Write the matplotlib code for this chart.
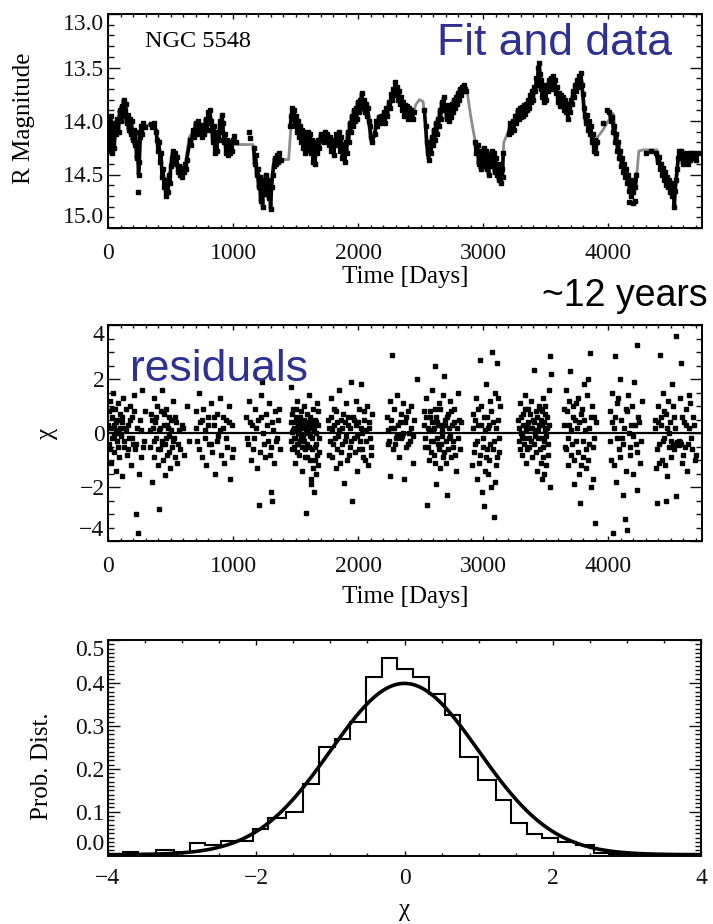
import numpy as np
import matplotlib
matplotlib.use("Agg")
import matplotlib.pyplot as plt
from matplotlib.ticker import MultipleLocator, FormatStrFormatter

plt.rcParams['font.family'] = ['Liberation Serif', 'DejaVu Serif']

# --- light curve: fitted model (grey line) ---
fit_day = [0, 25, 50, 80, 110, 130, 155, 180, 210, 235,
           250, 265, 290, 380, 400, 425, 450, 470, 490, 505,
           520, 540, 560, 590, 615, 630, 650, 680, 720, 760,
           790, 815, 840, 870, 900, 915, 935, 970, 1000, 1030,
           1160, 1180, 1200, 1230, 1260, 1290, 1315, 1330, 1360, 1390,
           1445, 1460, 1475, 1500, 1530, 1560, 1600, 1640, 1680, 1720,
           1760, 1800, 1830, 1860, 1890, 1920, 1950, 1980, 2000, 2030,
           2060, 2090, 2110, 2130, 2160, 2200, 2240, 2270, 2300, 2330,
           2360, 2400, 2440, 2460, 2490, 2520, 2545, 2565, 2590, 2620,
           2650, 2680, 2700, 2730, 2760, 2790, 2820, 2850, 2875, 2900,
           2930, 2960, 2990, 3030, 3060, 3100, 3130, 3150, 3165, 3200,
           3240, 3280, 3320, 3370, 3400, 3430, 3450, 3465, 3480, 3500,
           3530, 3560, 3580, 3610, 3640, 3680, 3710, 3740, 3770, 3790,
           3820, 3850, 3880, 3900, 3915, 3960, 4000, 4040, 4060, 4080,
           4110, 4140, 4170, 4200, 4225, 4245, 4280, 4390, 4420, 4450,
           4480, 4510, 4530, 4550, 4570, 4600, 4640, 4680, 4720, 4750]
fit_mag = [14.15, 14.00, 14.20, 14.05, 13.90, 13.82, 14.00, 14.05, 14.15, 14.30,
           14.45, 14.10, 14.04, 14.04, 14.20, 14.40, 14.60, 14.68, 14.55, 14.40,
           14.30, 14.35, 14.45, 14.48, 14.45, 14.30, 14.15, 14.10, 14.05, 14.10,
           14.00, 13.95, 14.05, 14.20, 14.05, 13.97, 14.20, 14.25, 14.20, 14.22,
           14.22, 14.35, 14.55, 14.65, 14.60, 14.70, 14.55, 14.40, 14.35, 14.36,
           14.36, 14.10, 13.92, 14.00, 14.10, 14.15, 14.20, 14.25, 14.25, 14.15,
           14.15, 14.25, 14.15, 14.20, 14.30, 14.15, 14.00, 13.95, 13.85, 13.75,
           13.85, 13.95, 14.15, 14.10, 14.00, 13.98, 13.90, 13.78, 13.65, 13.75,
           13.85, 13.90, 13.95, 13.85, 13.80, 13.82, 14.10, 14.35, 14.20, 14.10,
           13.95, 13.80, 13.85, 13.95, 13.90, 13.85, 13.70, 13.67, 13.75, 13.95,
           14.15, 14.30, 14.30, 14.35, 14.30, 14.40, 14.50, 14.55, 14.20, 14.10,
           14.05, 13.95, 13.92, 13.90, 13.78, 13.60, 13.48, 13.60, 13.75, 13.72,
           13.65, 13.60, 13.70, 13.80, 13.82, 13.95, 13.80, 13.70, 13.58, 13.65,
           13.95, 14.05, 14.20, 14.25, 14.15, 14.08, 14.00, 13.93, 14.10, 14.30,
           14.40, 14.50, 14.60, 14.62, 14.55, 14.28, 14.27, 14.27, 14.40, 14.50,
           14.55, 14.62, 14.68, 14.50, 14.28, 14.35, 14.33, 14.32, 14.30, 14.30]

# --- light curve: observations (black), one line per observing season ---
obs_day = [5, 12, 20, 28, 35, 42, 50, 58, 66, 75, 84, 92, 100, 108, 116, 124, 132, 140, 148, 156,
           164, 172, 180, 188, 196, 204, 212, 220, 228, 236, 244, 250, 256, 264, 272, 282, 292,
           340, 355, 370, 385, 393, 400, 408, 416, 424, 432, 440, 448, 455, 462, 470, 478, 486, 494,
           502, 510, 518, 526, 534, 542, 550, 558, 566, 574, 582, 590, 598, 606, 614, 622, 630,
           655, 665, 680, 690, 700, 710, 720, 730, 740, 750, 760, 770, 780, 790, 800, 808, 815, 823,
           830, 838, 846, 854, 862, 870, 878, 886, 894, 902, 910, 918, 926, 934, 942, 950, 958, 966,
           974, 982, 990, 1000, 1010, 1020,
           1165, 1172, 1180, 1188, 1196, 1204, 1212, 1220, 1228, 1236, 1244, 1252, 1260, 1268, 1276,
           1284, 1292, 1300, 1308, 1316, 1324, 1332, 1340, 1350, 1360, 1370, 1380,
           1458, 1465, 1472, 1480, 1488, 1496, 1504, 1512, 1520, 1528, 1536, 1544, 1552, 1560, 1568,
           1576, 1584, 1592, 1600, 1608, 1616, 1624, 1632, 1640, 1648, 1656, 1664, 1672, 1680, 1690,
           1700,
           1725, 1735, 1745, 1755, 1765, 1775, 1785, 1795, 1805, 1815, 1825, 1835, 1845, 1855, 1865,
           1875, 1885, 1893, 1900, 1908, 1916, 1924, 1932, 1940, 1948, 1956, 1964, 1972, 1980, 1988,
           1996, 2004, 2012, 2020, 2028, 2036, 2044, 2052, 2060, 2068, 2076, 2084, 2092, 2100, 2108,
           2135, 2145, 2155, 2165, 2175, 2185, 2195, 2205, 2215, 2225, 2235, 2245, 2255, 2263, 2271,
           2279, 2287, 2295, 2303, 2311, 2319, 2327, 2335, 2343, 2351, 2359, 2367, 2375, 2383, 2391,
           2399, 2407, 2415, 2425, 2435, 2445,
           2530, 2540, 2548, 2556, 2564, 2572, 2580, 2588, 2596, 2604, 2612, 2620, 2628, 2636, 2644,
           2652, 2660, 2668, 2676, 2684, 2692, 2700, 2708, 2716, 2724, 2732, 2740, 2748, 2756, 2764,
           2772, 2780, 2788, 2796, 2804, 2812, 2820, 2828, 2836, 2844, 2852, 2860,
           2935, 2945, 2955, 2963, 2971, 2979, 2987, 2995, 3003, 3011, 3019, 3027, 3035, 3043, 3051,
           3059, 3067, 3075, 3083, 3091, 3099, 3107, 3115, 3123, 3131, 3139, 3147, 3155, 3160,
           3205, 3215, 3225, 3235, 3245, 3255, 3265, 3275, 3285, 3295, 3305, 3313, 3321, 3329, 3337,
           3345, 3353, 3361, 3369, 3377, 3385, 3393, 3401, 3409, 3417, 3425, 3433, 3441, 3447, 3453,
           3459, 3465, 3471, 3477, 3485, 3493, 3501, 3509, 3517, 3525, 3533,
           3541, 3549, 3557, 3565, 3573, 3581, 3589, 3597, 3605, 3613, 3621, 3629, 3637, 3645, 3653,
           3661, 3669, 3677, 3685, 3693, 3701, 3709, 3717, 3725, 3733, 3741, 3749, 3757, 3765, 3773,
           3781, 3789, 3797, 3805, 3813, 3821, 3829, 3837, 3845, 3853, 3861, 3869, 3877, 3885, 3893,
           3901, 3909,
           4010, 4022, 4034, 4042, 4050, 4058, 4066, 4074, 4082, 4090, 4098, 4106, 4114, 4122, 4130,
           4138, 4146, 4154, 4162, 4170, 4178, 4186, 4194, 4202, 4210, 4218, 4226,
           4385, 4395, 4405, 4415, 4425, 4433, 4441, 4449, 4457, 4465, 4473, 4481, 4489, 4497, 4505,
           4513, 4521, 4529, 4535, 4543, 4551, 4559, 4567, 4575, 4585, 4595, 4605, 4615, 4625, 4635,
           4645, 4655, 4665, 4675, 4690, 4705, 4720]
obs_mag = [14.12, 14.28, 13.95, 14.08, 14.30, 14.15, 14.25, 14.02, 14.12, 13.98, 14.10, 13.90, 14.00, 13.86, 13.95, 13.80, 13.90, 13.84, 14.02, 13.94,
           14.08, 13.98, 14.12, 14.00, 14.18, 14.08, 14.22, 14.10, 14.35, 14.20, 14.50, 14.38, 14.15, 14.05, 14.12, 14.02, 14.06,
           14.03, 14.06, 14.02, 14.10, 14.18, 14.28, 14.20, 14.38, 14.30, 14.52, 14.45, 14.62, 14.55, 14.70, 14.60, 14.66, 14.50, 14.58,
           14.42, 14.35, 14.28, 14.38, 14.30, 14.40, 14.34, 14.48, 14.42, 14.50, 14.45, 14.52, 14.44, 14.48, 14.40, 14.45, 14.36,
           14.18, 14.22, 14.08, 14.15, 14.02, 14.12, 14.00, 14.10, 14.04, 14.15, 14.06, 14.12, 13.98, 14.08, 13.92, 14.02, 13.90, 14.00,
           14.08, 14.20, 14.05, 14.30, 14.15, 14.28, 14.10, 14.18, 14.00, 14.10, 13.94, 14.02, 14.20, 14.12, 14.30, 14.18, 14.32, 14.22,
           14.30, 14.20, 14.28, 14.18, 14.14, 14.20,
           14.25, 14.40, 14.32, 14.50, 14.45, 14.62, 14.52, 14.75, 14.60, 14.80, 14.55, 14.68, 14.50, 14.62, 14.55,
           14.72, 14.60, 14.82, 14.62, 14.50, 14.42, 14.35, 14.40, 14.32, 14.38, 14.30, 14.36,
           14.05, 13.95, 13.88, 13.98, 13.90, 14.05, 13.95, 14.10, 14.00, 14.15, 14.05, 14.20, 14.08, 14.25, 14.10,
           14.30, 14.15, 14.22, 14.10, 14.28, 14.12, 14.30, 14.18, 14.38, 14.22, 14.40, 14.20, 14.30, 14.18, 14.25,
           14.12,
           14.20, 14.10, 14.18, 14.12, 14.22, 14.15, 14.28, 14.18, 14.32, 14.20, 14.12, 14.22, 14.10, 14.28, 14.15,
           14.35, 14.22, 14.38, 14.20, 14.30, 14.10, 14.20, 14.02, 14.10, 13.95, 14.05, 13.90, 14.00, 13.88, 13.98,
           13.82, 13.92, 13.80, 13.88, 13.74, 13.85, 13.80, 13.92, 13.84, 13.95, 13.88, 14.00, 14.05, 14.15, 14.20,
           14.12, 14.00, 14.05, 13.96, 14.02, 13.95, 14.00, 13.92, 14.02, 13.88, 13.95, 13.82, 13.88, 13.75, 13.80,
           13.70, 13.76, 13.64, 13.70, 13.68, 13.80, 13.72, 13.84, 13.78, 13.90, 13.82, 13.95, 13.85, 13.92, 13.86,
           13.98, 13.88, 13.95, 13.90, 13.98, 13.92,
           13.90, 14.05, 14.20, 14.30, 14.36, 14.25, 14.30, 14.15, 14.22, 14.08, 14.18, 14.02, 14.12, 13.98, 14.05,
           13.90, 13.98, 13.82, 13.90, 13.78, 13.86, 13.90, 13.98, 13.85, 14.00, 13.88, 13.96, 13.84, 13.92, 13.80,
           13.88, 13.78, 13.84, 13.74, 13.80, 13.70, 13.76, 13.68, 13.72, 13.66, 13.70, 13.72,
           14.20, 14.30, 14.22, 14.40, 14.28, 14.45, 14.30, 14.42, 14.25, 14.38, 14.28, 14.45, 14.32, 14.50, 14.35,
           14.42, 14.28, 14.38, 14.30, 14.48, 14.35, 14.50, 14.40, 14.55, 14.42, 14.58, 14.45, 14.52, 14.30,
           14.12, 14.02, 14.10, 14.00, 14.08, 13.95, 14.02, 13.90, 13.98, 13.88, 13.96, 13.87, 13.95, 13.85, 13.93,
           13.84, 13.90, 13.80, 13.88, 13.76, 13.82, 13.72, 13.80, 13.68, 13.72, 13.60, 13.66, 13.50, 13.46, 13.56,
           13.70, 13.62, 13.78, 13.66, 13.82, 13.70, 13.80, 13.66, 13.72, 13.62, 13.68,
           13.60, 13.70, 13.58, 13.66, 13.62, 13.74, 13.68, 13.82, 13.74, 13.86, 13.76, 13.85, 13.78, 13.90, 13.80,
           13.92, 13.84, 13.98, 13.88, 13.92, 13.80, 13.84, 13.72, 13.78, 13.66, 13.72, 13.62, 13.68, 13.58, 13.64,
           13.55, 13.66, 13.75, 13.88, 13.95, 14.02, 13.94, 14.08, 14.00, 14.12, 14.05, 14.20, 14.12, 14.28, 14.18,
           14.30, 14.20,
           13.92, 14.00, 13.96, 14.10, 14.05, 14.20, 14.12, 14.28, 14.20, 14.35, 14.28, 14.42, 14.35, 14.48, 14.40,
           14.52, 14.45, 14.58, 14.50, 14.65, 14.55, 14.70, 14.58, 14.66, 14.55, 14.62, 14.50,
           14.30, 14.38, 14.34, 14.45, 14.40, 14.50, 14.44, 14.55, 14.48, 14.60, 14.52, 14.62, 14.55, 14.66, 14.58,
           14.70, 14.62, 14.80, 14.65, 14.55, 14.45, 14.35, 14.28, 14.35, 14.28, 14.40, 14.30, 14.38, 14.32, 14.40,
           14.30, 14.36, 14.30, 14.35, 14.30, 14.36, 14.30]

# isolated observations
odd_day = [237, 1128, 1134, 3960, 3990, 4165, 4195, 4213, 4300, 4340]
odd_mag = [14.66, 14.10, 14.16, 14.02, 13.90, 14.76, 14.77, 14.75, 14.30, 14.28]

# --- residuals chi: scattered points ---
res_day = [5, 10, 15, 20, 25, 30, 35, 40, 45, 50, 55, 60, 65, 70, 75, 80, 85, 90, 95, 100,
           108, 115, 122, 130, 138, 145, 152, 160, 168, 176, 184, 192, 200, 210, 218, 223, 230, 237, 245, 255,
           265, 275, 285, 295,
           335, 342, 350, 357, 364, 371, 378, 385, 392, 399, 406, 410, 414, 421, 428, 435, 442, 449, 456, 458,
           463, 470, 477, 484, 491, 498, 505, 512, 520, 528, 536, 545, 555, 565, 575, 590, 610, 630, 650,
           700, 712, 724, 736, 748, 760, 772, 784, 796, 808, 820, 832, 844, 856, 868, 880, 892, 904, 916, 928,
           940, 952, 964, 976, 988, 1000,
           1105, 1118, 1130, 1142, 1154, 1166, 1178, 1190, 1202, 1208, 1214, 1226, 1234, 1242, 1254, 1266, 1278,
           1290, 1300, 1302, 1310, 1314, 1326, 1338, 1350, 1362, 1374,
           1460, 1466, 1472, 1478, 1484, 1490, 1496, 1502, 1508, 1514, 1520, 1526, 1532, 1538, 1544, 1550, 1556,
           1562, 1568, 1574, 1580, 1586, 1592, 1598, 1604, 1610, 1616, 1622, 1628, 1634, 1640, 1647, 1652, 1658,
           1664, 1670, 1676, 1682, 1688, 1475, 1545, 1600, 1615, 1660, 1625,
           1760, 1770, 1780, 1790, 1800, 1810, 1820, 1830, 1840, 1850, 1860, 1870, 1880, 1886, 1893, 1902, 1912,
           1922, 1932, 1942, 1952, 1960, 1970, 1980, 1990, 2000, 2010, 2020, 2030, 2040, 2050, 2060, 2070, 2080,
           2090, 2100, 2112,
           2232, 2242, 2252, 2258, 2265, 2272, 2280, 2290, 2300, 2310, 2320, 2330, 2340, 2350, 2358, 2365, 2375,
           2385, 2395, 2405, 2415, 2425, 2435, 2445, 2472,
           2525, 2533, 2541, 2551, 2555, 2563, 2571, 2579, 2587, 2595, 2603, 2611, 2618, 2622, 2630, 2638, 2646,
           2654, 2662, 2670, 2678, 2684, 2690, 2698, 2706, 2711, 2718, 2726, 2734, 2742, 2750, 2760, 2770, 2780,
           2790, 2800, 2812, 2825,
           2912, 2922, 2932, 2942, 2952, 2962, 2972, 2977, 2984, 2990, 2996, 3004, 3010, 3018, 3026, 3034, 3042,
           3050, 3058, 3066, 3070, 3076, 3083, 3090, 3098, 3106, 3110, 3118, 3126, 3134,
           3282, 3290, 3298, 3306, 3314, 3322, 3330, 3338, 3346, 3354, 3362, 3370, 3378, 3386, 3394, 3403, 3410,
           3418, 3426, 3434, 3442, 3450, 3458, 3466, 3474, 3482, 3490, 3498, 3506, 3514, 3522, 3530, 3536, 3538,
           3542, 3460, 3470, 3480, 3488, 3495,
           3645, 3655, 3665, 3675, 3685, 3695, 3705, 3715, 3725, 3735, 3745, 3755, 3765, 3775, 3785, 3795, 3805,
           3815, 3825, 3835, 3845, 3855, 3865, 3875, 3885, 3895, 3905,
           4014, 4024, 4034, 4041, 4048, 4054, 4062, 4074, 4086, 4098, 4110, 4122, 4134, 4140, 4148, 4160, 4172,
           4184, 4196, 4208, 4220, 4227, 4229, 4240, 4254, 4270,
           4372, 4380, 4387, 4395, 4405, 4413, 4420, 4430, 4440, 4450, 4460, 4466, 4474, 4482, 4490, 4500, 4510,
           4520, 4530, 4540, 4546, 4552, 4560, 4568, 4576, 4586, 4594, 4604, 4614, 4624, 4634, 4644, 4656, 4670,
           4686, 4700]
res_chi = [0.8, -0.4, 1.2, 0.2, -1.1, 0.6, -0.2, 1.5, 0.3, -0.7, 0.9, 0.1, -1.4, 0.5, -0.3, 1.1, 0.0, -0.9, 0.7, -0.1,
           0.4, -1.6, 1.3, -0.5, 0.2, 0.9, -0.8, 0.3, -0.2, 1.0, -1.2, 0.6, -0.4, 1.4, -0.6, -3.0, 0.2, -3.7, -1.5, 0.5,
           -0.9, 1.6, -0.3, 0.8,
           -0.5, 0.7, -1.8, 0.2, 1.3, -0.9, 0.4, -0.2, 1.0, -1.2, 0.1, -2.8, -0.6, 0.8, -0.3, 1.6, -1.0, 0.3, -0.4, -1.55,
           0.9, -0.8, 0.2, -0.1, 0.6, -1.3, 0.5, -0.5, 1.2, -0.2, -0.9, 0.4, -1.1, 0.1, -0.6, 0.3, -0.8, 1.0, -0.3,
           0.8, -0.3, 1.5, 0.4, -0.9, 0.9, 0.1, -1.2, 0.6, -0.4, 1.1, -0.7, 0.3, -1.5, 0.7, -0.1, 1.3, -0.8, 0.2, -1.1,
           0.5, -0.5, 1.0, -1.7, 0.3, -0.6,
           0.6, -0.4, 1.2, -1.0, 0.3, -0.2, 0.9, -1.3, 0.5, -2.65, -0.7, 1.4, 1.9, 0.0, -0.9, 0.7, -0.3,
           1.1, -2.2, -0.5, -2.5, 0.4, -1.1, 0.8, -0.2, 0.5, -0.6,
           1.7, 0.4, -0.6, 0.9, -0.2, 0.2, -1.1, 0.6, -0.4, 1.2, 0.0, -0.8, 0.5, -0.3, 0.8, -1.4, 0.3,
           -0.1, 1.0, -0.6, -2.96, 0.4, -0.9, 0.1, 1.4, -0.5, 0.6, -1.7, 0.2, -0.2, 0.9, -2.2, -1.0, 0.5,
           -0.4, 1.1, -1.2, 0.3, -0.7, 0.05, -0.15, 0.25, -0.1, 0.0, -1.9,
           0.5, -0.8, 1.3, 0.1, -0.4, 0.9, -1.3, 0.4, -0.1, 1.6, -0.7, 0.2, 0.7, -1.85, -0.3, 1.1, -1.0,
           0.3, -0.5, 1.9, -2.5, 0.6, -0.2, 1.2, -1.4, 0.4, -0.6, 1.8, 0.0, -0.9, 0.8, -0.3, 1.0, -1.2,
           0.2, -0.5, 0.7,
           0.6, -0.4, 1.2, -1.6, 0.2, 2.9, -0.6, 0.9, -0.2, 1.4, 0.3, -0.9, 0.7, -0.1, 1.1, -1.7, 0.4,
           -0.5, 0.8, 0.0, -0.3, 1.0, -1.1, 0.5, 2.0,
           0.8, -0.5, 1.3, -2.65, 0.2, -1.0, 0.6, -0.3, 1.6, 0.1, -0.8, 0.9, 2.5, -1.9, 0.4, -0.4, 1.1,
           -1.3, 0.3, -0.1, 1.4, 2.1, -0.7, 0.5, -1.1, -2.3, 0.7, -0.2, 1.2, -0.9, 0.3, -0.5, 0.9, -1.4,
           0.2, 1.5, -0.6, 0.4,
           -1.2, 0.7, -0.4, 1.3, -1.7, 0.3, -0.8, 2.7, 1.0, -2.2, -0.2, -2.7, 0.6, -1.4, 1.8, -0.6, 0.2,
           -1.0, 1.2, -2.0, 3.0, 0.4, -3.1, -0.3, 1.5, -1.2, 2.6, 0.5, -0.7, 1.0,
           0.5, -0.3, 1.1, 0.0, -0.8, 0.7, -0.2, 1.4, -1.1, 0.3, 0.9, -0.5, 0.2, 1.2, -0.9, 2.35, 0.4,
           -0.1, 0.8, -1.4, 0.1, 1.0, -0.6, 0.5, -1.7, 1.3, -0.3, 0.7, -1.2, 0.2, -0.4, 1.6, 2.84, -2.0,
           2.2, -0.2, 0.3, -0.9, -1.5, 0.1,
           0.9, -0.5, 1.6, -1.2, 0.3, 2.3, -0.8, 1.0, -1.9, 0.5, -0.3, 1.3, -1.5, -2.6, 0.7, -0.9, 1.8,
           0.1, -1.3, 2.0, -0.4, 2.96, 0.6, -1.7, -0.2, -3.33, 0.4,
           0.8, -1.0, 1.5, -3.7, 0.2, 2.84, -1.8, 1.1, -0.6, 2.0, -0.2, -2.3, -3.2, 0.9, -3.6, 1.4, -0.8,
           0.3, -1.5, 1.9, -0.4, 3.27, -2.1, 0.6, -1.1, 1.2,
           0.5, -1.3, -2.6, 1.0, -0.4, 2.9, 0.3, -1.0, 1.5, -0.2, 0.7, -2.5, -1.6, 1.2, 0.0, -0.9, 1.8,
           -0.4, 0.6, 3.6, -2.35, -0.35, -0.4, -0.3, 1.3, 2.6, -1.1, 0.4, -0.5, 0.9, -1.4, 0.2, 1.1, -0.6,
           0.3, -0.8]

# --- residuals chi: dense core of each season ---
core_day = [3, 18, 33, 48, 63, 78, 93, 112, 127, 142, 157, 172, 190, 205, 225, 260, 280,
            338, 352, 368, 382, 396, 418, 432, 446, 466, 474, 488, 502, 516, 532, 560, 600,
            706, 730, 754, 778, 802, 826, 850, 874, 898, 922, 946, 970, 994,
            1110, 1136, 1160, 1184, 1220, 1248, 1272, 1296, 1320, 1344, 1368,
            1463, 1469, 1481, 1487, 1493, 1499, 1505, 1511, 1517, 1523, 1529, 1535, 1541, 1547, 1553, 1559,
            1565, 1571, 1577, 1583, 1589, 1595, 1607, 1613, 1619, 1631, 1637, 1643, 1649, 1655, 1661, 1667,
            1673, 1679, 1685,
            1765, 1775, 1785, 1795, 1805, 1815, 1825, 1835, 1845, 1855, 1865, 1875, 1897, 1907, 1917, 1927,
            1937, 1947, 1965, 1975, 1985, 1995, 2005, 2015, 2025, 2035, 2045, 2055, 2065, 2085, 2095, 2106,
            2237, 2247, 2262, 2285, 2295, 2315, 2335, 2345, 2362, 2380, 2400, 2420, 2440,
            2529, 2537, 2545, 2559, 2567, 2575, 2583, 2591, 2599, 2607, 2615, 2626, 2634, 2642, 2650, 2658,
            2666, 2674, 2682, 2694, 2702, 2714, 2722, 2730, 2738, 2746, 2755, 2765, 2775, 2795, 2806,
            2917, 2927, 2937, 2947, 2957, 2967, 2980, 3000, 3014, 3022, 3030, 3038, 3046, 3054, 3062, 3080,
            3094, 3102, 3114, 3122, 3130,
            3286, 3294, 3302, 3310, 3318, 3326, 3334, 3342, 3350, 3358, 3366, 3374, 3382, 3390, 3398, 3406,
            3414, 3422, 3430, 3438, 3446, 3454, 3462, 3468, 3476, 3484, 3492, 3500, 3510, 3518, 3526,
            3650, 3660, 3670, 3680, 3690, 3700, 3710, 3720, 3730, 3740, 3750, 3760, 3770, 3780, 3790, 3800,
            3810, 3820, 3830, 3840, 3850, 3860, 3870, 3880, 3890,
            4018, 4030, 4044, 4058, 4068, 4080, 4092, 4104, 4116, 4128, 4144, 4154, 4166, 4178, 4190, 4202,
            4214, 4234, 4248, 4262,
            4376, 4391, 4400, 4409, 4425, 4435, 4445, 4455, 4470, 4486, 4495, 4505, 4515, 4525, 4535, 4556,
            4564, 4572, 4580, 4590, 4600, 4620, 4640, 4650, 4662, 4678, 4692]
core_chi = [0.3, -0.6, 0.9, -0.1, 0.4, -0.5, 0.2, 0.6, -0.3, 0.1, -0.6, 0.5, -0.2, 0.8, -0.4, 0.1, -0.5,
            0.1, 0.5, -0.3, 0.6, -0.6, 0.2, -0.4, 0.7, -0.2, 0.3, -0.7, 0.1, -0.3, 0.6, -0.4, 0.2,
            0.2, -0.6, 0.5, -0.2, 0.3, -0.4, 0.6, -0.3, 0.1, 0.6, -0.2, 0.4, -0.9,
            -0.2, 0.4, -0.6, 0.2, 0.6, -0.4, 0.3, -0.8, 0.1, -0.3, 0.9,
            -0.3, 0.7, 0.1, -0.5, 0.4, -0.2, 0.9, -0.7, 0.3, -0.4, 0.1, 0.6, -0.1, 0.3, -0.5, 0.2,
            -0.3, 0.5, -0.9, 0.0, 0.7, -0.4, 0.2, -1.0, 0.4, -0.6, 0.3, -1.3, 0.1, -0.5, -1.5, 0.4,
            -0.8, 0.8, -0.2,
            0.2, -0.3, 0.6, -0.9, 0.3, -0.2, 0.8, -0.6, 0.1, -1.1, 0.5, -0.4, 0.4, -0.1, 0.6, -0.8,
            0.2, -0.3, 0.5, -0.7, 0.3, -0.1, 0.9, -0.3, 0.2, -0.6, 0.5, -1.0, 0.1, 0.4, -0.2, -0.8,
            0.1, -0.3, 0.5, 0.2, -0.4, -0.1, 0.4, -0.2, 0.0, 0.6, -0.4, 0.2, -0.1,
            0.3, -0.2, 0.6, -0.5, 0.1, 0.8, -0.7, 0.4, -0.3, 0.2, -1.1, 0.6, -0.2, 0.3, -0.6, 0.9,
            -0.4, 0.1, -0.9, 0.3, -0.3, 0.6, -0.6, 0.2, -0.1, 0.8, -0.3, 0.4, -0.8, -0.2, 0.5,
            0.2, -0.7, 0.5, -0.3, 0.9, -1.1, 0.3, -0.5, 0.1, -0.9, 0.6, -1.5, 0.3, -0.4, 0.8, -0.6,
            -1.8, 0.2, -0.9, 1.3, -0.2,
            0.2, -0.6, 0.6, -0.1, 0.3, -0.4, 0.9, 0.1, -0.6, 0.4, -0.2, 0.7, -0.3, 0.2, 0.5, -0.4,
            0.1, -0.7, 0.6, -0.2, 0.3, 0.9, -1.1, 0.8, -0.5, 0.4, 1.0, -0.1, 0.6, -0.8, 0.3,
            0.3, -0.6, 0.8, -0.2, 1.2, 0.1, -0.4, 0.6, -1.0, 1.1, 0.2, -0.7, 0.4, -1.2, 0.9, -0.3,
            0.5, -0.6, 1.4, -1.0, 0.2, -2.0, 1.0, -0.5, 0.6,
            -0.3, 0.4, -1.2, 0.6, -0.2, 1.3, -0.9, 0.5, -0.4, 0.2, -1.4, 0.8, 0.0, -0.5, 1.0, -0.1,
            0.3, -0.7, 0.4, -0.3,
            0.2, -0.6, 0.4, -1.1, 0.6, -0.3, 0.8, -1.2, 0.2, -0.5, 0.4, -0.3, 1.0, -0.6, 0.2, -0.4,
            -0.45, -0.35, -0.4, 0.6, -0.8, 0.3, -0.4, 1.4, -0.2, 0.6, -1.0]

# --- distribution of chi ---
hist_edges = [-4.00, -3.80, -3.59, -3.35, -3.11, -2.90, -2.69, -2.48, -2.26, -2.05, -1.84,
              -1.60, -1.37, -1.15, -0.94, -0.73, -0.52, -0.31, -0.10, 0.12, 0.33, 0.54,
              0.75, 0.99, 1.23, 1.44, 1.65, 1.86, 2.07, 2.31, 2.55, 2.76, 3.50, 4.00]
hist_prob = [0.0, 0.006, 0.002, 0.012, 0.006, 0.027, 0.022, 0.033, 0.033, 0.06, 0.085,
             0.10, 0.165, 0.25, 0.27, 0.31, 0.415, 0.458, 0.433, 0.415, 0.374, 0.326,
             0.227, 0.174, 0.128, 0.074, 0.048, 0.039, 0.03, 0.022, 0.005, 0.002, 0.0]

W, H = 713, 924
BLUE = '#2e3192'


def box(l, t, r, b):
    return [l / W, 1 - b / H, (r - l) / W, (b - t) / H]


def style(ax, xmin, ymin):
    ax.xaxis.set_minor_locator(MultipleLocator(xmin))
    ax.yaxis.set_minor_locator(MultipleLocator(ymin))
    ax.tick_params(which='both', direction='in', top=True, right=True,
                   width=1.0, labelsize=17, colors='#111111')
    ax.tick_params(axis='x', which='major', length=3.4, pad=11)
    ax.tick_params(axis='x', which='minor', length=1.9)
    ax.tick_params(axis='y', which='major', length=8.6, pad=2.5)
    ax.tick_params(axis='y', which='minor', length=4.3)
    for s in ax.spines.values():
        s.set_linewidth(1.4)


def end_labels(ax, low, high):
    ticks = ax.yaxis.get_major_ticks()
    ticks[0].label1.set_va(low)
    ticks[-1].label1.set_va(high)


fig = plt.figure(figsize=(W / 100, H / 100), dpi=100)

# ---- panel 1: light curve ----
ax1 = fig.add_axes(box(108, 14, 702, 228))
ax1.plot(fit_day, fit_mag, color='#8c8c8c', lw=2.0, zorder=2)
day = np.array(obs_day)
mag = np.array(obs_mag)
cut = np.where(np.diff(day) > 30)[0] + 1
for d, m in zip(np.split(day, cut), np.split(mag, cut)):
    ax1.plot(d, m, color='black', lw=2.6, marker='s', ms=3.2, zorder=3)
ax1.plot(odd_day, odd_mag, 's', color='black', ms=2.6, zorder=3)
ax1.set_xlim(0, 4750)
ax1.set_ylim(15.0, 13.0)
ax1.set_xticks([0, 1000, 2000, 3000, 4000])
ax1.set_yticks([13.0, 13.5, 14.0, 14.5, 15.0])
ax1.yaxis.set_major_formatter(FormatStrFormatter('%.1f'))
style(ax1, 100, 0.1)
end_labels(ax1, 'top', 'bottom')
ax1.set_xlabel('Time [Days]', fontsize=18)
ax1.xaxis.set_label_coords(0.5, -(266 - 228) / 214)
ax1.set_ylabel('R Magnitude', fontsize=18)
ax1.yaxis.set_label_coords(-(108 - 35) / 594, 0.514)
fig.text(145 / W, 1 - 47 / H, 'NGC 5548', fontsize=17.5, va='baseline')
fig.text(437 / W, 1 - 55 / H, 'Fit and data', fontsize=32, color=BLUE,
         family='Liberation Sans', va='baseline')
fig.text(708 / W, 1 - 306 / H, '~12 years', fontsize=27, color='black',
         family='Liberation Sans', va='baseline', ha='right')

# ---- panel 2: residuals ----
ax2 = fig.add_axes(box(108, 325, 702, 541))
ax2.axhline(0, color='black', lw=1.6, zorder=2)
ax2.plot(res_day, res_chi, 's', color='black', ms=2.4, zorder=3)
ax2.plot(core_day, core_chi, 's', color='black', ms=2.4, zorder=3)
ax2.set_xlim(0, 4750)
ax2.set_ylim(-4, 4)
ax2.set_xticks([0, 1000, 2000, 3000, 4000])
ax2.set_yticks([-4, -2, 0, 2, 4])
style(ax2, 100, 0.5)
end_labels(ax2, 'bottom', 'top')
ax2.set_xlabel('Time [Days]', fontsize=18)
ax2.xaxis.set_label_coords(0.5, -(586 - 541) / 216)
ax2.set_ylabel('χ', fontsize=18)
ax2.yaxis.set_label_coords(-(108 - 58) / 594, 0.5)
fig.text(130 / W, 1 - 381 / H, 'residuals', fontsize=32, color=BLUE,
         family='Liberation Sans', va='baseline')

# ---- panel 3: distribution ----
ax3 = fig.add_axes(box(108, 640, 701, 856))
ax3.stairs(hist_prob, hist_edges, baseline=None, color='black', lw=1.5)
gx = np.linspace(-4, 4, 400)
ax3.plot(gx, np.exp(-gx ** 2 / 2) / np.sqrt(2 * np.pi), color='black', lw=2.6)
ax3.set_xlim(-4, 4)
ax3.set_ylim(-0.003, 0.5)
ax3.set_xticks([-4, -2, 0, 2, 4])
ax3.set_yticks([0.0, 0.1, 0.2, 0.3, 0.4, 0.5])
ax3.yaxis.set_major_formatter(FormatStrFormatter('%.1f'))
style(ax3, 0.5, 0.01)
ax3.tick_params(axis='x', which='major', pad=9)
end_labels(ax3, 'bottom', 'top')
ax3.set_xlabel('χ', fontsize=18)
ax3.xaxis.set_label_coords(0.5, -(899 - 856) / 216)
ax3.set_ylabel('Prob. Dist.', fontsize=18)
ax3.yaxis.set_label_coords(-(108 - 53) / 593, 0.417)

fig.savefig('out.png', dpi=100)
